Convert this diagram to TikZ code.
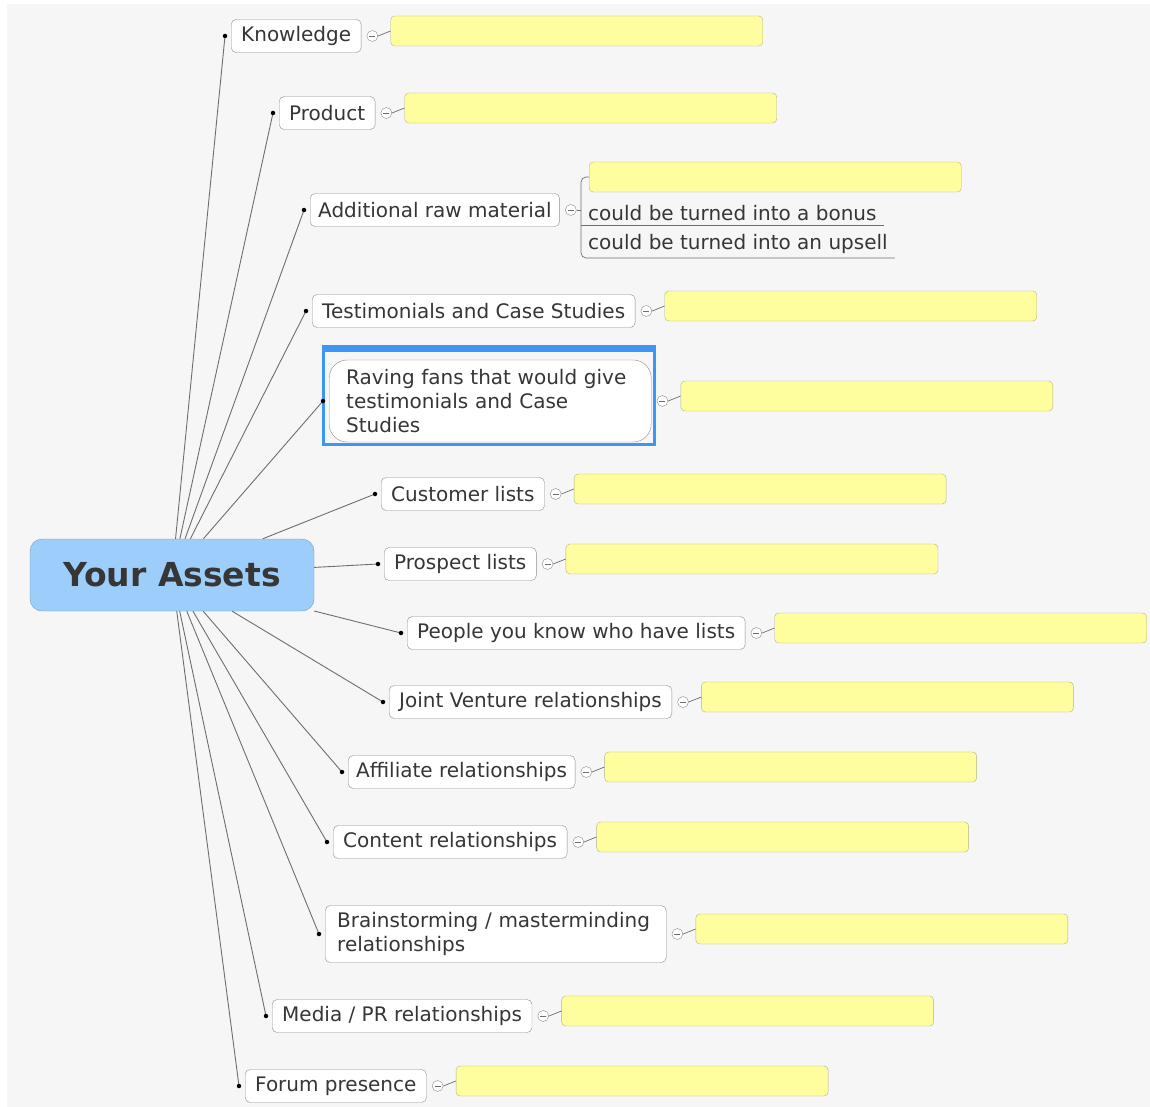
\documentclass[tikz,border=0pt]{standalone}
\usepackage{fontspec}
\setmainfont{DejaVu Sans}
\usepackage{xcolor}
\usepackage{tikz}
\usetikzlibrary{positioning,shapes}

\definecolor{paper}{HTML}{F6F6F6}
\definecolor{rootblue}{HTML}{9DCDFA}
\definecolor{rootedge}{HTML}{7F9DBA}
\definecolor{inkgray}{HTML}{363636}
\definecolor{boxedge}{HTML}{8E8E8E}
\definecolor{noteyellow}{HTML}{FEFE9E}
\definecolor{noteedge}{HTML}{B4B48A}
\definecolor{selblue}{HTML}{3D96F4}
\definecolor{wire}{HTML}{6E6E6E}

\begin{document}
\begin{tikzpicture}[
            x=1pt, y=-1pt,
            rootbox/.style={rectangle, rounded corners=12pt, draw=rootedge, fill=rootblue, text=inkgray,
                font=\fontsize{33}{38}\selectfont\bfseries, minimum width=284pt, minimum height=72pt},
            topic/.style={rectangle, rounded corners=5pt, draw=boxedge, fill=white, text=inkgray,
                font=\fontsize{20}{24}\selectfont, minimum height=33pt, inner xsep=10pt, anchor=west},
            leaf/.style={font=\fontsize{20}{24}\selectfont, text=inkgray, inner xsep=7pt, inner ysep=4pt, anchor=south west},
            note/.style={rectangle, rounded corners=4pt, draw=noteedge, fill=noteyellow,
                minimum width=372pt, minimum height=30pt, inner sep=0pt, anchor=west},
            dot/.style={circle, fill=black, inner sep=0pt, minimum size=4.5pt},
            collapse/.style={circle, draw=wire!80, fill=white, inner sep=0pt, minimum size=11pt,
                path picture={\draw[wire, line width=0.8pt] ([xshift=-3pt]path picture bounding box.center)
                    -- ([xshift=3pt]path picture bounding box.center);}},
            branch/.style={draw=wire, line width=0.9pt}
        ]
            \useasboundingbox (0,0) rectangle (1150,1107);
            \fill[paper] (7,4) rectangle (1150,1107);

            % Vertices
            \node[rootbox] (root) at (172,575) {Your Assets};
            \node[topic] (knowledge) at (231,36) {Knowledge};
            \node[topic] (product) at (279,113) {Product};
            \node[topic, inner xsep=8pt] (rawmat) at (310,210) {Additional raw material};
            \node[topic] (testimonials) at (312,311) {Testimonials and Case Studies};
            \node[topic, rounded corners=18pt, text width=288pt, inner xsep=17pt, minimum height=82pt,
                align=left] (raving) at (329,401) {Raving fans that would give\\testimonials and Case\\Studies};
            \node[topic] (customers) at (381,494) {Customer lists};
            \node[topic] (prospects) at (384,564) {Prospect lists};
            \node[topic] (people) at (407,633) {People you know who have lists};
            \node[topic] (jv) at (389,702) {Joint Venture relationships};
            \node[topic, inner xsep=8pt] (affiliates) at (348,772) {Affiliate relationships};
            \node[topic] (content) at (333,842) {Content relationships};
            \node[topic, text width=317pt, inner xsep=12pt, minimum height=57pt, align=left]
                (brainstorm) at (325,934) {Brainstorming / masterminding\\relationships};
            \node[topic] (media) at (272,1016) {Media / PR relationships};
            \node[topic] (forum) at (245,1086) {Forum presence};

            % selection frame round the raving fans topic
            \draw[selblue, line width=3pt] ([xshift=-5.5pt,yshift=13.5pt]raving.north west)
                rectangle ([xshift=3.5pt,yshift=-2.5pt]raving.south east);
            \fill[selblue] ([xshift=-7pt,yshift=15pt]raving.north west)
                rectangle ([xshift=5pt,yshift=8pt]raving.north east);

            % Edges
            \foreach \t in {knowledge, product, rawmat, testimonials, raving, customers, prospects,
                    people, jv, affiliates, content, brainstorm, media, forum} {
                \node[collapse] (\t-col) at ([xshift=11pt]\t.east) {};
                \draw[branch] (root) -- ([xshift=-6pt]\t.west);
                \node[dot] (\t-dot) at ([xshift=-6pt]\t.west) {};
            }
            \foreach \t in {knowledge, product, testimonials, raving, customers, prospects,
                    people, jv, affiliates, content, brainstorm, media, forum} {
                \node[note] (\t-note) at ([xshift=12.5pt,yshift=5pt]\t-col.east) {};
                \draw[branch, line width=0.7pt] (\t-col.east) -- (\t-note.west);
            }

            % additional raw material has three children
            \coordinate (rawmat-fork) at ([xshift=4.5pt]rawmat-col.east);
            \node[note] (rawmat-note) at ([xshift=8pt,yshift=33pt]rawmat-fork) {};
            \node[leaf] (bonus) at ([yshift=-15pt]rawmat-fork) {could be turned into a bonus};
            \node[leaf] (upsell) at ([yshift=-48pt]rawmat-fork) {could be turned into an upsell};
            \draw[branch, line width=0.7pt] (rawmat-col.east) -- (rawmat-fork);
            \draw[branch, line width=0.7pt, rounded corners=5pt] (rawmat-note.west) -| (rawmat-fork)
                |- (upsell.south east);
            \draw[branch, line width=0.7pt] (bonus.south west) -- (bonus.south east);
        \end{tikzpicture}
\end{document}
